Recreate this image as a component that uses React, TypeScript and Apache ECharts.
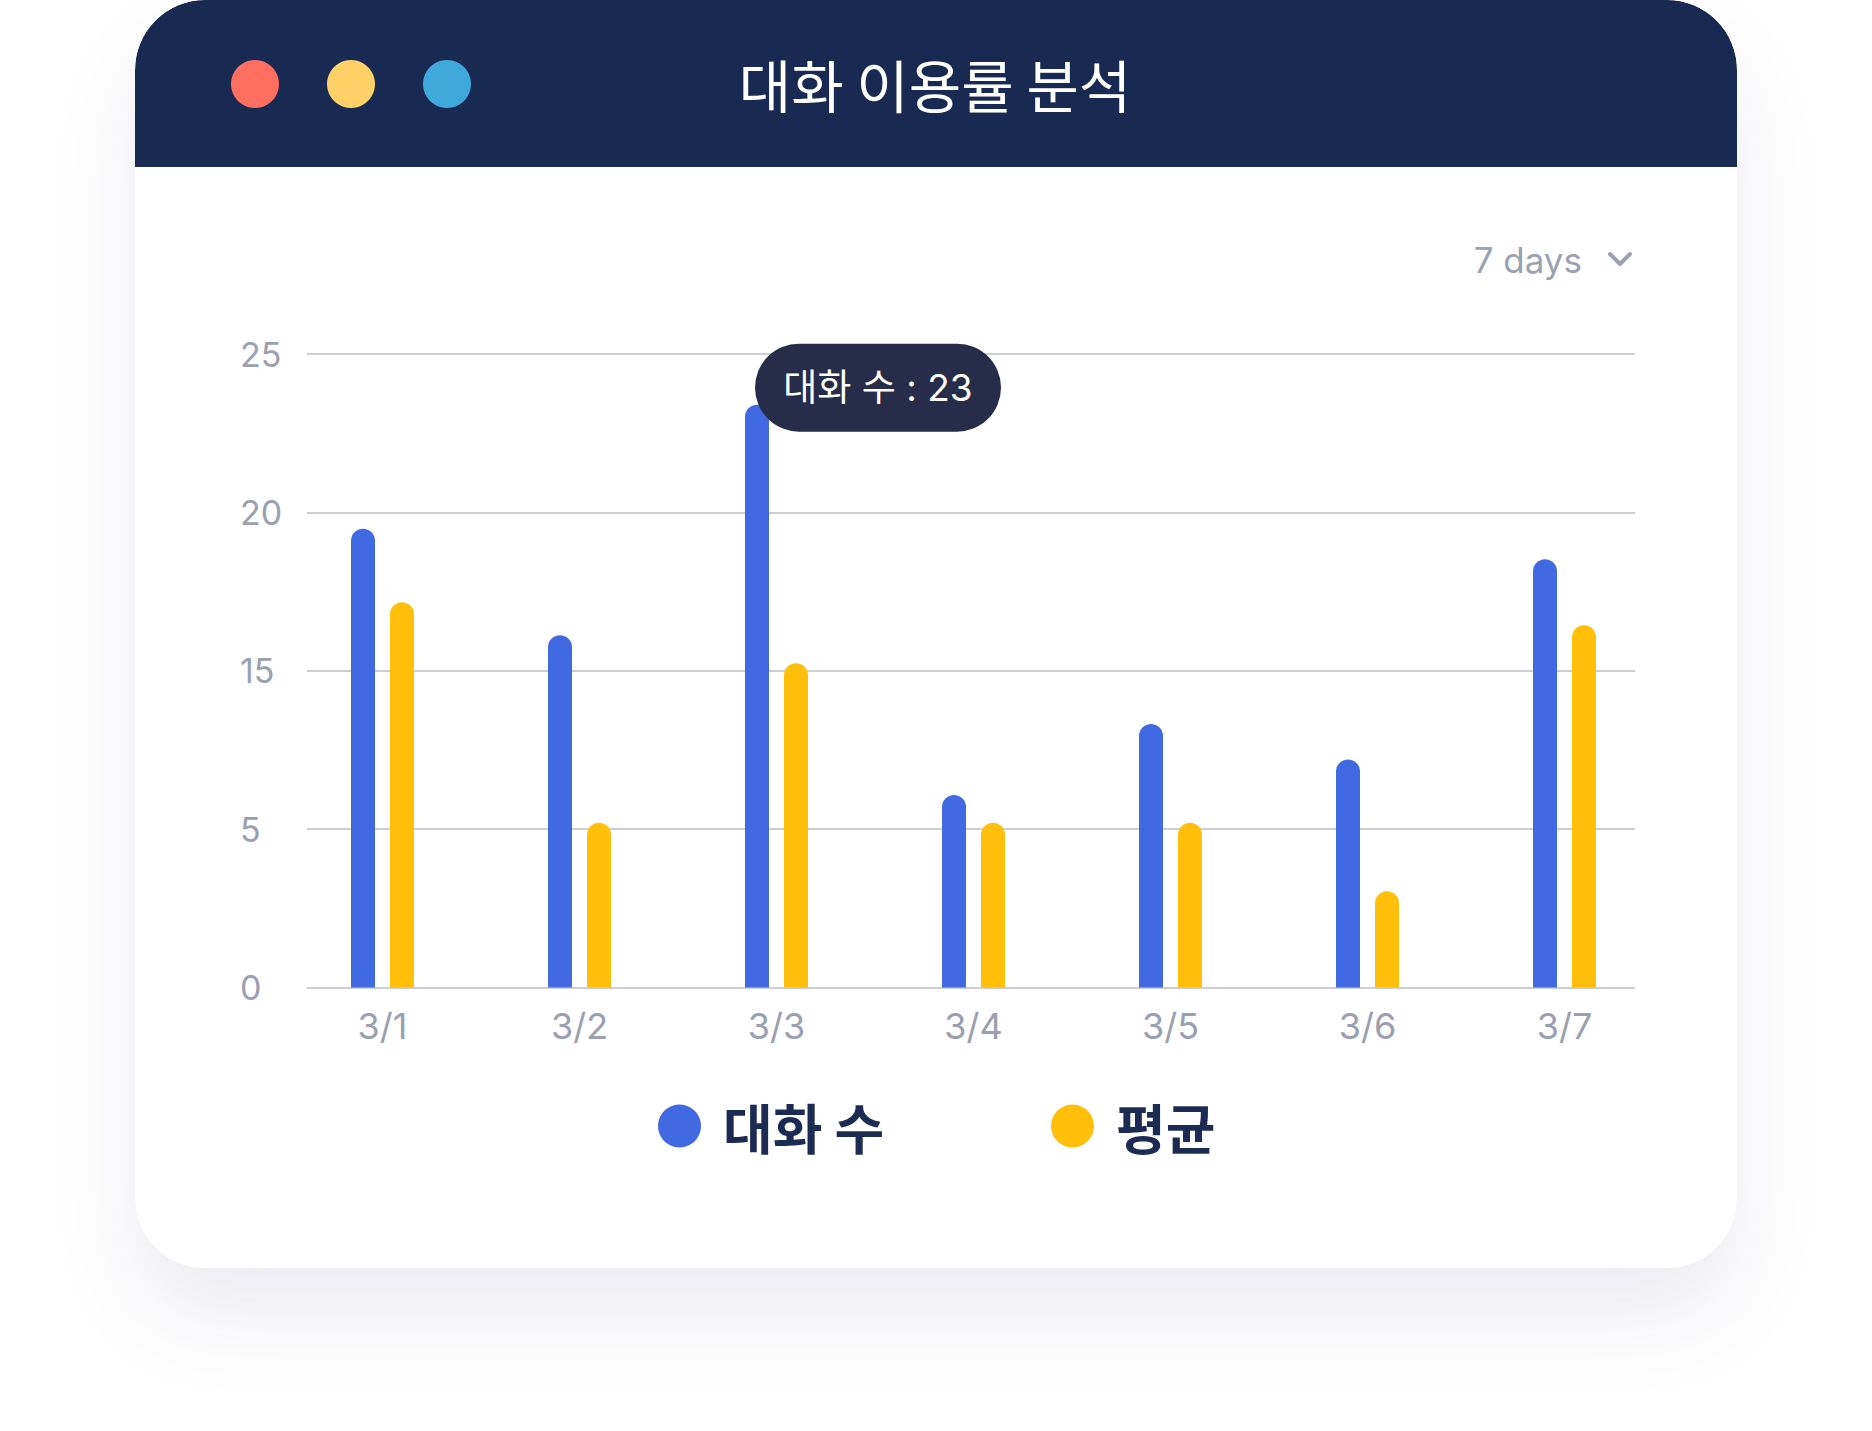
import React, { useEffect, useRef } from "react";
import * as echarts from "echarts";

const categories = ["3/1", "3/2", "3/3", "3/4", "3/5", "3/6", "3/7"];
const conversations = [18.1, 13.9, 23, 7.6, 10.4, 9, 16.9];
const averages = [15.2, 6.5, 12.8, 6.5, 6.5, 3.8, 14.3];
const yTickLabels = ["0", "5", "15", "20", "25"];
const seriesNames = ["대화 수", "평균"];
const titleText = "대화 이용률 분석";
const rangeText = "7 days";

const W = 1602;
const H = 1268;
const LATIN = "Inter, 'Noto Sans CJK KR', sans-serif";
const KR = "'Noto Sans CJK KR', Inter, sans-serif";

export default function App() {
  const ref = useRef<HTMLDivElement>(null);
  useEffect(() => {
    if (!ref.current) return;
    const chart = echarts.init(ref.current, null, { renderer: "svg", width: W, height: H });
    const yStep = 25 / (yTickLabels.length - 1);
    const legendText = { color: "#1B2B52", fontSize: 54, fontWeight: 700, fontFamily: KR, padding: [0, 0, 0, 17] };
    const option: any = {
      animation: false,
      backgroundColor: "transparent",
      grid: [
        { left: 172, right: 102, top: 354, bottom: 280.5 },
        { left: 149, right: 74, top: 354, bottom: 280.5 },
      ],
      xAxis: [
        { gridIndex: 0, type: "value", min: 0, max: 1, show: false },
        {
          gridIndex: 1,
          type: "category",
          data: categories,
          axisLine: { show: false },
          axisTick: { show: false },
          axisLabel: { color: "#9BA0AF", fontSize: 36, fontFamily: LATIN, margin: 20 },
        },
      ],
      yAxis: [
        {
          gridIndex: 0,
          type: "value",
          min: 0,
          max: 25,
          interval: yStep,
          axisLine: { show: false },
          axisTick: { show: false },
          splitLine: { lineStyle: { color: "#CDCDD4", width: 2 } },
          axisLabel: {
            color: "#9BA0AF",
            fontSize: 34,
            fontFamily: LATIN,
            align: "left",
            margin: 67,
            formatter: (v: number) => yTickLabels[Math.round(v / yStep)] ?? "",
          },
        },
        { gridIndex: 1, type: "value", min: 0, max: 25, show: false },
      ],
      legend: [
        {
          data: [seriesNames[0]],
          left: 518,
          top: 1094,
          icon: "circle",
          itemWidth: 43,
          itemHeight: 43,
          textStyle: legendText,
        },
        {
          data: [seriesNames[1]],
          left: 911,
          top: 1094,
          icon: "circle",
          itemWidth: 43,
          itemHeight: 43,
          textStyle: legendText,
        },
      ],
      series: [
        {
          name: seriesNames[0],
          type: "bar",
          xAxisIndex: 1,
          yAxisIndex: 1,
          data: conversations,
          barWidth: 24,
          barGap: "62.5%",
          itemStyle: { color: "#4169E1", borderRadius: [12, 12, 0, 0] },
          markPoint: {
            data: [{ type: "max" }],
            symbol: "path://M44,0L202,0A44,44,0,0,1,202,88L44,88A44,44,0,0,1,44,0Z",
            symbolSize: [246, 88],
            symbolOffset: [121, -17],
            itemStyle: { color: "#272C48" },
            label: {
              show: true,
              position: "inside",
              color: "#FFFFFF",
              fontSize: 37,
              fontFamily: LATIN,
              formatter: (p: any) => `${seriesNames[0]} : ${p.value}`,
            },
          },
        },
        {
          name: seriesNames[1],
          type: "bar",
          xAxisIndex: 1,
          yAxisIndex: 1,
          data: averages,
          barWidth: 24,
          barGap: "62.5%",
          itemStyle: { color: "#FFBF0B", borderRadius: [12, 12, 0, 0] },
        },
      ],
      graphic: [
        {
          type: "rect",
          shape: { x: 0, y: 0, width: W, height: 167, r: [70, 70, 0, 0] },
          style: { fill: "#182A52" },
          z: -10,
        },
        { type: "circle", shape: { cx: 120, cy: 84, r: 24 }, style: { fill: "#FF6F61" } },
        { type: "circle", shape: { cx: 216, cy: 84, r: 24 }, style: { fill: "#FFD166" } },
        { type: "circle", shape: { cx: 312, cy: 84, r: 24 }, style: { fill: "#3FA9DB" } },
        {
          type: "text",
          x: 800,
          y: 83,
          style: {
            text: titleText,
            fill: "#FFFFFF",
            font: `400 57px ${KR}`,
            align: "center",
            verticalAlign: "middle",
          },
        },
        {
          type: "text",
          x: 1447,
          y: 260,
          style: {
            text: rangeText,
            fill: "#9CA1B0",
            font: `400 35px ${LATIN}`,
            align: "right",
            verticalAlign: "middle",
          },
        },
        {
          type: "polyline",
          shape: { points: [[1475, 254], [1485, 264], [1495, 254]] },
          style: { stroke: "#9CA1B0", lineWidth: 4, lineCap: "round", lineJoin: "round", fill: "none" },
        },
      ],
    };
    chart.setOption(option);
    return () => chart.dispose();
  }, []);

  return (
    <div style={{ position: "absolute", left: 0, top: 0, width: 1872, height: 1431, background: "#FFFFFF", overflow: "hidden" }}>
      <div
        style={{
          position: "absolute",
          left: 135,
          top: 0,
          width: W,
          height: H,
          borderRadius: 70,
          background: "#FFFFFF",
          overflow: "hidden",
          boxShadow: "0 50px 90px 0 rgba(30,40,90,0.085)",
        }}
      >
        <div ref={ref} style={{ width: W, height: H }} />
      </div>
    </div>
  );
}
